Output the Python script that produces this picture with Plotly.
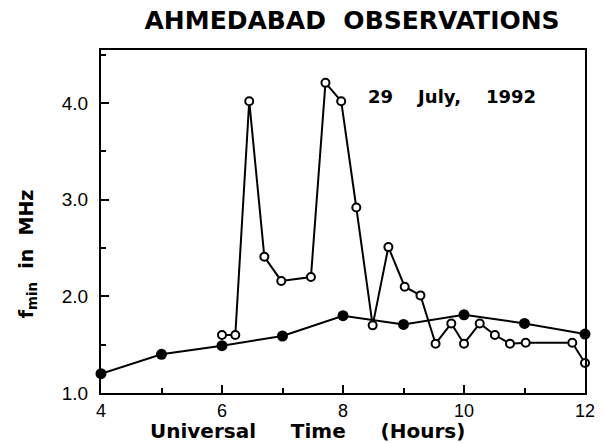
import plotly.graph_objects as go

# Filled-circle series (hourly)
filled_x = [4, 5, 6, 7, 8, 9, 10, 11, 12]
filled_y = [1.20, 1.40, 1.49, 1.59, 1.80, 1.71, 1.81, 1.72, 1.61]

# Open-circle series
open_x = [6.00, 6.22, 6.45, 6.70, 6.98, 7.47, 7.71, 7.97, 8.22, 8.49, 8.75,
          9.02, 9.28, 9.53, 9.79, 10.00, 10.26, 10.51, 10.76, 11.02, 11.79, 12.00]
open_y = [1.60, 1.60, 4.02, 2.41, 2.16, 2.20, 4.21, 4.02, 2.92, 1.70, 2.51,
          2.10, 2.01, 1.51, 1.72, 1.51, 1.72, 1.60, 1.51, 1.52, 1.52, 1.31]

x_ticks = [4, 6, 8, 10, 12]
y_ticks = [1.0, 2.0, 3.0, 4.0]

BOLD = "DejaVu Sans"
REG = "Liberation Sans, Arial, sans-serif"

fig = go.Figure()
fig.add_trace(go.Scatter(
    x=filled_x, y=filled_y, mode="lines+markers",
    line=dict(color="black", width=2),
    marker=dict(symbol="circle", size=11, color="black"),
    cliponaxis=False, showlegend=False))
fig.add_trace(go.Scatter(
    x=open_x, y=open_y, mode="lines+markers",
    line=dict(color="black", width=2),
    marker=dict(symbol="circle", size=8, color="white",
                line=dict(color="black", width=2)),
    cliponaxis=False, showlegend=False))

fig.update_layout(
    width=607, height=443,
    margin=dict(l=101, r=14, t=50, b=50),
    paper_bgcolor="white", plot_bgcolor="white",
    title=dict(text="<b>AHMEDABAD  OBSERVATIONS</b>",
               font=dict(family=BOLD, size=25, color="black"),
               x=0.58, xref="container", xanchor="center",
               y=0.955, yref="container", yanchor="middle"),
    xaxis=dict(range=[4, 12], tickvals=x_ticks,
               ticktext=[str(v) for v in x_ticks],
               showline=True, linecolor="black", linewidth=2, mirror=True,
               ticks="inside", ticklen=8, tickwidth=2, tickcolor="black",
               minor=dict(dtick=1, tick0=4, ticks="inside", ticklen=5,
                          tickwidth=2, tickcolor="black"),
               showgrid=False, zeroline=False,
               tickfont=dict(family=REG, size=18, color="black")),
    yaxis=dict(range=[1.0, 4.55], tickvals=y_ticks,
               ticktext=["%.1f" % v for v in y_ticks],
               showline=True, linecolor="black", linewidth=2, mirror=True,
               ticks="inside", ticklen=8, tickwidth=2, tickcolor="black",
               minor=dict(dtick=0.5, tick0=1.0, ticks="inside", ticklen=5,
                          tickwidth=2, tickcolor="black"),
               showgrid=False, zeroline=False, ticklabelstandoff=7,
               tickfont=dict(family=REG, size=19, color="black")),
)

fig.add_annotation(
    text="<b>Universal     Time     (Hours)</b>", xref="paper", yref="paper",
    x=0.426, y=-0.112, xanchor="center", yanchor="middle", showarrow=False,
    font=dict(family=BOLD, size=20, color="black"))
fig.add_annotation(
    text="<b>f<sub>min</sub>  in  MHz</b>", xref="paper", yref="paper",
    x=-0.152, y=0.406, xanchor="center", yanchor="middle", showarrow=False,
    textangle=-90, font=dict(family=BOLD, size=19, color="black"))
fig.add_annotation(
    text="<b>29    July,    1992</b>", xref="x", yref="y",
    x=9.8, y=4.07, xanchor="center", yanchor="middle", showarrow=False,
    font=dict(family=BOLD, size=18, color="black"))

fig.write_html("out.html", post_script="document.body.style.margin='0';",
               config={"displayModeBar": False})
